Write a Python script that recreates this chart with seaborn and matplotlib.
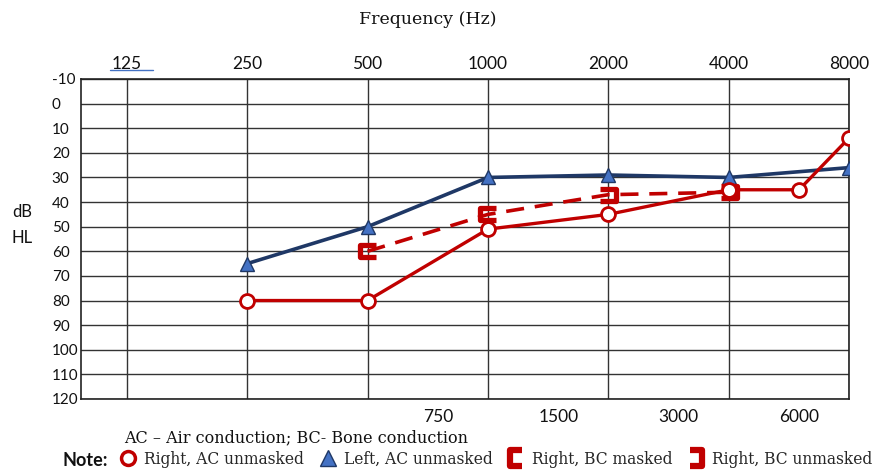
import numpy as np
import pandas as pd
import matplotlib.pyplot as plt
import seaborn as sns
from matplotlib.lines import Line2D

# values (dB HL)
top_freqs = [125, 250, 500, 1000, 2000, 4000, 8000]
mid_freqs = [750, 1500, 3000, 6000]
db_ticks = list(range(-10, 121, 10))

right_ac_freq = [250, 500, 1000, 2000, 4000, 6000, 8000]
right_ac_db = [80, 80, 51, 45, 35, 35, 14]

left_ac_freq = [250, 500, 1000, 2000, 4000, 8000]
left_ac_db = [65, 50, 30, 29, 30, 26]

right_bc_freq = [500, 1000, 2000, 4000]
right_bc_db = [60, 45, 37, 36]
right_bc_masked = [True, True, False, False]

legend_labels = ["Right, AC unmasked", "Left, AC unmasked",
                 "Right, BC masked", "Right, BC unmasked"]

RED = "#C00000"
NAVY = "#1F3866"
TRI = "#4472C4"

# bracket markers: "[" masked, "]" unmasked
open_br = [(0.55, 0.45), (-0.55, 0.45), (-0.55, -0.45), (0.55, -0.45)]
close_br = [(-0.55, 0.45), (0.55, 0.45), (0.55, -0.45), (-0.55, -0.45)]
open_leg = [(0.38, 0.5), (-0.38, 0.5), (-0.38, -0.5), (0.38, -0.5)]
close_leg = [(-0.38, 0.5), (0.38, 0.5), (0.38, -0.5), (-0.38, -0.5)]

sns.set_theme(style="white")
plt.rcParams["font.family"] = ["Lato", "DejaVu Sans"]

fig = plt.figure(figsize=(8.85, 4.70), dpi=100)
ax = fig.add_axes([81 / 885, 1 - 399 / 470, (849 - 81) / 885, (399 - 79) / 470])

left = pd.DataFrame({"freq": left_ac_freq, "db": left_ac_db})
right = pd.DataFrame({"freq": right_ac_freq, "db": right_ac_db})
bc = pd.DataFrame({"freq": right_bc_freq, "db": right_bc_db, "masked": right_bc_masked})

sns.lineplot(data=left, x="freq", y="db", ax=ax, color=NAVY, linewidth=2.6,
             marker="^", markersize=10, markerfacecolor=TRI, markeredgecolor=NAVY,
             markeredgewidth=1, zorder=4)
sns.lineplot(data=bc, x="freq", y="db", ax=ax, color=RED, linewidth=2.6,
             linestyle=(0, (5, 3)), zorder=5)
sns.lineplot(data=bc[bc.masked], x="freq", y="db", ax=ax, color=RED, linestyle="",
             marker=open_br, markersize=11, markerfacecolor="none",
             markeredgecolor=RED, markeredgewidth=3.8, zorder=6)
sns.lineplot(data=bc[~bc.masked], x="freq", y="db", ax=ax, color=RED, linestyle="",
             marker=close_br, markersize=11, markerfacecolor="none",
             markeredgecolor=RED, markeredgewidth=3.8, zorder=6)
sns.lineplot(data=right, x="freq", y="db", ax=ax, color=RED, linewidth=2.4,
             marker="o", markersize=10, markerfacecolor="white",
             markeredgecolor=RED, markeredgewidth=2, zorder=7)

ax.set_xscale("log", base=2)
ax.set_xlim(96, 8000)
ax.set_ylim(120, -10)
ax.set_xticks(top_freqs)
ax.set_xticklabels([str(f) for f in top_freqs])
ax.set_xticks(mid_freqs, minor=True)
ax.set_xticklabels([str(f) for f in mid_freqs], minor=True)
ax.tick_params(axis="x", which="major", top=False, bottom=False, length=0,
               labeltop=True, labelbottom=False, pad=5, labelsize=12.5, colors="#111")
ax.tick_params(axis="x", which="minor", top=False, bottom=False, length=0,
               labeltop=False, labelbottom=True, pad=7, labelsize=12.5, colors="#111")
ax.set_yticks(db_ticks)
ax.set_yticklabels([str(v) for v in db_ticks])
ax.tick_params(axis="y", left=False, length=0, labelsize=11, pad=21, colors="#111")
for t in ax.get_yticklabels():
    t.set_horizontalalignment("left")
ax.grid(True, which="major", color="#333333", linewidth=1)
ax.grid(False, which="minor")
ax.set_xlabel("")
ax.set_ylabel("")
for s in ax.spines.values():
    s.set_color("#222222")
    s.set_linewidth(1.2)

# titles and notes
fig.text(428 / 885, 1 - 20 / 470, "Frequency (Hz)", family="DejaVu Serif",
         fontsize=12.5, ha="center", va="center", color="#111")
fig.text(22 / 885, 1 - 212 / 470, "dB", fontsize=12, ha="center", va="center", color="#111")
fig.text(22 / 885, 1 - 238 / 470, "HL", fontsize=12, ha="center", va="center", color="#111")
fig.add_artist(Line2D([110 / 885, 153 / 885], [1 - 70 / 470, 1 - 70 / 470],
                      color=TRI, linewidth=1))
fig.text(296 / 885, 1 - 438 / 470, "AC \u2013 Air conduction; BC- Bone conduction",
         family="DejaVu Serif", fontsize=11.5, ha="center", va="center", color="#111")
fig.text(62 / 885, 1 - 460 / 470, "Note:", fontsize=13, fontweight="bold",
         ha="left", va="center", color="#111")

handles = [
    Line2D([], [], linestyle="none", marker="o", markersize=10, markerfacecolor="none",
           markeredgecolor=RED, markeredgewidth=2.5),
    Line2D([], [], linestyle="none", marker="^", markersize=11, markerfacecolor=TRI,
           markeredgecolor=NAVY, markeredgewidth=1),
    Line2D([], [], linestyle="none", marker=open_leg, markersize=12, markerfacecolor="none",
           markeredgecolor=RED, markeredgewidth=4.5),
    Line2D([], [], linestyle="none", marker=close_leg, markersize=12, markerfacecolor="none",
           markeredgecolor=RED, markeredgewidth=4.5),
]
fig.legend(handles, legend_labels, loc="center left",
           bbox_to_anchor=(121 / 885, 1 - 459 / 470), ncol=4, frameon=False,
           prop={"family": "DejaVu Serif", "size": 11.2}, handlelength=0.9,
           handletextpad=0.6, columnspacing=1.05, borderpad=0, borderaxespad=0)

fig.savefig("out.png", dpi=100)
